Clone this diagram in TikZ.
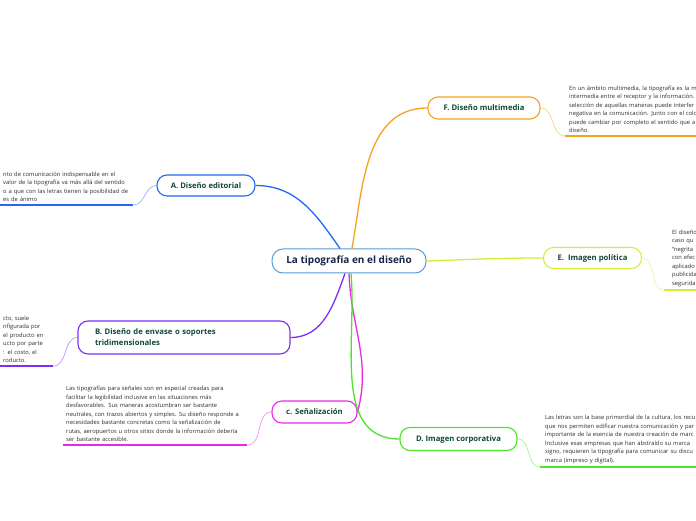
\documentclass[tikz,border=0pt]{standalone}
\usepackage{fontspec}
\setmainfont{Open Sans}
\usepackage{tikz}
\usetikzlibrary{positioning,calc}
\definecolor{hubblue}{RGB}{86,156,214}
\definecolor{hubtext}{RGB}{22,38,72}
\definecolor{labgreen}{RGB}{18,72,56}
\definecolor{bodygray}{RGB}{45,45,45}
\definecolor{brA}{RGB}{38,104,240}
\definecolor{brB}{RGB}{124,48,246}
\definecolor{brC}{RGB}{228,44,228}
\definecolor{brD}{RGB}{76,228,44}
\definecolor{brE}{RGB}{210,240,56}
\definecolor{brF}{RGB}{246,162,30}

\begin{document}
\begin{tikzpicture}[x=1pt,y=1pt,
  topic/.style={draw=#1,fill=white,line width=1.1pt,rounded corners=10pt,
    font=\fontsize{7.7}{11}\selectfont\bfseries,text=labgreen,inner sep=0pt,
    minimum height=21pt},
  note/.style={font=\fontsize{5.8}{8.5}\selectfont,text=bodygray,align=left,
    inner xsep=3pt,inner ysep=3pt,anchor=south west},
  trunk/.style={#1,line width=1.3pt},
  twig/.style={#1!55,line width=0.6pt},
  underline/.style={#1,line width=1.4pt}]
  \useasboundingbox[fill=white] (0,0) rectangle (696,520);
  \clip (0,0) rectangle (696,520);

  \node[draw=hubblue,fill=white,line width=1pt,rounded corners=11pt,
        minimum width=154pt,minimum height=24pt,inner sep=0pt,
        font=\fontsize{10}{12}\selectfont\bfseries,text=hubtext]
        (hub) at (349,259) {La tipografía en el diseño};

  \node[topic=brA,minimum width=98pt] (edit) at (206,334.5) {A. Diseño editorial};
  \node[topic=brB,minimum width=212pt,minimum height=33pt,align=left,
        text width=178pt,inner xsep=17pt] (pack) at (184,182.5)
        {B. Diseño de envase o soportes\\tridimensionales};
  \node[topic=brC,minimum width=85pt,minimum height=22pt] (sign) at (314.5,108) {c. Señalización};
  \node[topic=brD,minimum width=117pt,minimum height=23pt] (corp) at (458.5,81) {D. Imagen corporativa};
  \node[topic=brE,minimum width=98pt] (poli) at (592.5,262) {E.\ \ Imagen política};
  \node[topic=brF,minimum width=112pt,minimum height=22pt] (multi) at (484,412) {F. Diseño multimedia};

  \node[note,text width=127pt] (noteA) at (0,315)
    {nto de comunicación indispensable en el\\
     valor de la tipografía va más allá del sentido\\
     o a que con las letras tienen la posibilidad de\\
     es de ánimo};
  \node[note,text width=47pt] (noteB) at (0,154)
    {cto, suele\\ nfigurada por\\ el producto en\\ ucto por parte\\ : el costo, el\\ roducto.};
  \node[note,text width=178pt] (noteC) at (63,75)
    {Las tipografías para señales son en especial creadas para\\
     facilitar la legibilidad inclusive en las situaciones más\\
     desfavorables. Sus maneras acostumbran ser bastante\\
     neutrales, con trazos abiertos y simples. Su diseño responde a\\
     necesidades bastante concretas como la señalización de\\
     rutas, aeropuertos u otros sitios donde la información debería\\
     ser bastante accesible.};
  \node[note,text width=200pt,inner xsep=5pt] (noteD) at (540,53)
    {Las letras son la base primordial de la cultura, los recu\\
     que nos permiten edificar nuestra comunicación y par\\
     importante de la esencia de nuestra creación de marc\\
     Inclusive esas empresas que han abstraído su marca\\
     signo, requieren la tipografía para comunicar su discu\\
     marca (impreso y digital).};
  \node[note,text width=60pt,inner xsep=8pt] (noteE) at (664,230)
    {El diseño\\ caso qu\\ “negrita\\ con efec\\ aplicado\\ publicida\\ segurida};
  \node[note,text width=160pt,inner xsep=4pt] (noteF) at (565,384)
    {En un ámbito multimedia, la tipografía es la m\\
     intermedia entre el receptor y la información.\\
     selección de aquellas maneras puede interfer\\
     negativa en la comunicación. Junto con el colo\\
     puede cambiar por completo el sentido que a\\
     diseño.};

  \draw[trunk=brA] ($(hub.north)+(-9,0)$) to[out=125,in=0] (edit.east);
  \draw[trunk=brF] ($(hub.north)+(3,0)$) to[out=80,in=180] (multi.west);
  \draw[trunk=brB] ($(hub.south)+(-4,0)$) to[out=-110,in=0] (pack.east);
  \draw[trunk=brC] (hub.south) to[out=-88,in=75] (sign.east);
  \draw[trunk=brD] ($(hub.south)+(2,0)$) to[out=-85,in=180] (corp.west);
  \draw[trunk=brE] (hub.east) to[out=2,in=180] (poli.west);

  \draw[underline=brA] (noteA.south west) -- (noteA.south east);
  \draw[underline=brB] (noteB.south west) -- (noteB.south east);
  \draw[underline=brC] (noteC.south west) -- (noteC.south east);
  \draw[underline=brD] (noteD.south west) -- (noteD.south east);
  \draw[underline=brE] (noteE.south west) -- (noteE.south east);
  \draw[underline=brF] (noteF.south west) -- (noteF.south east);

  \draw[twig=brA] (noteA.south east) to[out=0,in=180] (edit.west);
  \draw[twig=brB] (noteB.south east) to[out=0,in=180] (pack.west);
  \draw[twig=brC] (noteC.south east) to[out=0,in=180] (sign.west);
  \draw[twig=brD] (corp.east) to[out=0,in=180] (noteD.south west);
  \draw[twig=brE] (poli.east) to[out=0,in=180] (noteE.south west);
  \draw[twig=brF] (multi.east) to[out=0,in=180] (noteF.south west);
\end{tikzpicture}
\end{document}
